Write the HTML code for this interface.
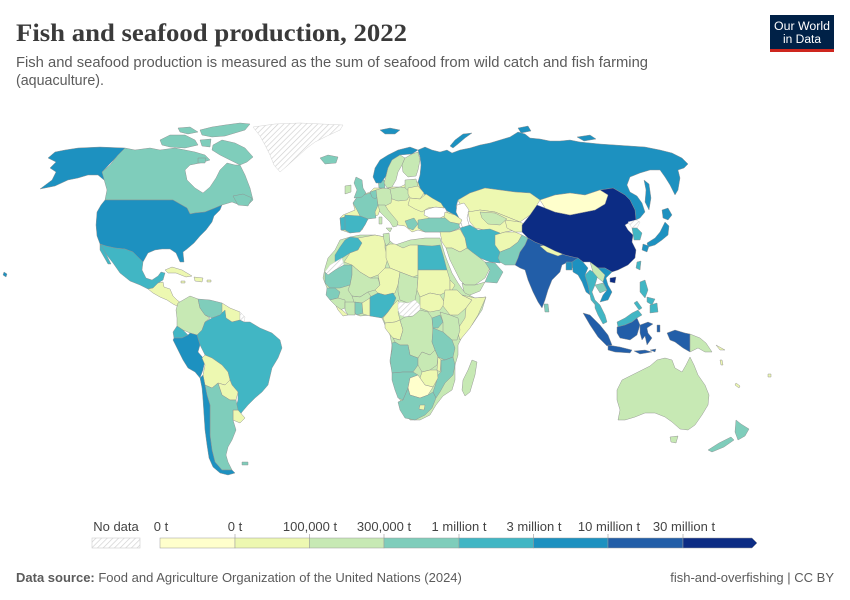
<!DOCTYPE html>
<html><head><meta charset="utf-8">
<style>
html,body{margin:0;padding:0;background:#fff;}
svg{display:block;}
.c0{fill:#ffffcc}.c1{fill:#edf8b1}.c2{fill:#c7e9b4}.c3{fill:#7fcdbb}
.c4{fill:#41b6c4}.c5{fill:#1d91c0}.c6{fill:#225ea8}.c7{fill:#0c2c84}
.nd{fill:url(#h);stroke:#cfcfcf !important}
.wt{fill:#fff}
.map polygon{stroke:#8f8f8f;stroke-width:0.45;stroke-linejoin:round}
text{font-family:"Liberation Sans",sans-serif}
</style></head>
<body>
<svg width="850" height="600" viewBox="0 0 850 600" xmlns="http://www.w3.org/2000/svg">
<defs>
<pattern id="h" width="4" height="4" patternUnits="userSpaceOnUse" patternTransform="rotate(45)">
<rect width="4" height="4" fill="#fff"/><line x1="0" y1="0" x2="0" y2="4" stroke="#cfcfcf" stroke-width="1.3"/>
</pattern>
</defs>
<rect width="850" height="600" fill="#fff"/>

<!-- Header -->
<text x="16" y="41" font-family="Liberation Serif,serif" style="font-family:'Liberation Serif',serif" font-size="25" font-weight="bold" fill="#3a3a3a" textLength="391" lengthAdjust="spacingAndGlyphs">Fish and seafood production, 2022</text>
<text x="16" y="67" font-size="14.5" fill="#5b5b5b" textLength="632" lengthAdjust="spacingAndGlyphs">Fish and seafood production is measured as the sum of seafood from wild catch and fish farming</text>
<text x="16" y="85" font-size="14.5" fill="#5b5b5b" textLength="88" lengthAdjust="spacingAndGlyphs">(aquaculture).</text>

<!-- Logo -->
<rect x="770" y="15" width="64" height="37" fill="#002147"/>
<rect x="770" y="49" width="64" height="3" fill="#ce261e"/>
<text x="802" y="30" font-size="11.5" fill="#fff" text-anchor="middle" textLength="56" lengthAdjust="spacingAndGlyphs">Our World</text>
<text x="802" y="43" font-size="11.5" fill="#fff" text-anchor="middle" textLength="38" lengthAdjust="spacingAndGlyphs">in Data</text>

<g class="map">
<!-- North America -->
<polygon class="c5" points="78,148 100,147 125,148 102,172 108,178 112,185 104,180 98,175 88,175 78,178 68,180 55,186 40,189 52,180 56,172 50,168 56,162 48,158 55,152 65,150"/>
<polygon class="c3" points="125,148 135,150 150,148 160,150 175,148 185,150 195,152 205,155 210,160 200,163 190,165 185,170 187,180 195,188 203,193 210,187 216,178 220,170 227,163 235,165 240,165 245,175 250,188 253,200 248,205 240,205 232,202 222,205 215,208 205,212 195,213 190,214 187,208 180,204 173,200 105,200 107,190 102,172 110,165 118,155"/>
<polygon class="c3" points="233,196 243,194 252,198 248,206 238,205"/>
<polygon class="c3" points="160,140 170,135 185,135 195,140 198,145 185,148 170,147 162,145"/>
<polygon class="c3" points="200,130 212,127 225,125 240,123 250,124 245,130 235,133 225,136 212,137 202,135"/>
<polygon class="c3" points="213,145 222,140 235,143 245,148 253,157 247,162 240,165 230,160 220,155 212,150"/>
<polygon class="c3" points="178,128 190,127 198,132 188,134 180,132"/>
<polygon class="c3" points="200,140 211,139 210,147 202,146"/>
<polygon class="c3" points="198,158 206,158 205,163 198,163"/>
<polygon class="nd" points="253,127 275,124 300,123 343,125 340,130 327,136 315,142 307,148 297,157 287,166 280,172 274,165 270,155 265,145 260,136"/>
<polygon class="c3" points="320,158 328,155 338,157 336,163 325,164"/>
<polygon class="c5" points="105,200 173,200 180,204 187,208 190,214 195,213 205,212 215,208 222,205 220,210 214,216 212,222 206,230 200,236 194,243 187,249 183,252 184,262 180,262 176,253 170,249 162,249 155,250 148,253 143,262 139,258 133,252 125,249 115,248 106,246 100,244 97,236 96,225 97,212 101,205"/>
<polygon class="c4" points="100,244 106,246 115,248 125,249 133,252 139,258 143,262 142,270 146,278 152,280 158,276 161,272 165,273 163,280 158,283 153,288 148,289 140,285 130,281 120,273 113,263 106,254"/>
<polygon class="c4" points="100,244 104,250 108,258 111,264 108,264 104,257 100,250"/>
<polygon class="c1" points="148,289 153,288 158,283 163,282 164,287 170,289 173,296 177,300 181,303 179,307 173,304 167,300 160,297 153,293"/>
<polygon class="c1" points="165,270 172,267 182,270 192,276 186,277 176,273 168,273"/>
<polygon class="c1" points="194,277 203,278 202,282 195,281"/>
<polygon class="c1" points="181,281 185,281 185,283 181,283"/>
<polygon class="c1" points="207,280 211,280 211,282 207,282"/>
<polygon class="c5" points="4,272 7,274 6,277 3,275"/>

<!-- South America -->
<polygon class="c2" points="178,303 190,296 198,299 200,308 205,315 210,318 205,322 202,330 197,335 190,333 183,330 177,326 177,318 176,310"/>
<polygon class="c3" points="198,299 210,300 222,303 225,310 220,315 212,318 205,315 200,308"/>
<polygon class="c1" points="222,303 230,308 240,312 240,320 232,322 226,318 222,312"/>
<polygon class="nd" points="240,312 245,317 244,322 240,320"/>
<polygon class="c4" points="202,330 205,322 212,318 220,315 225,310 226,318 232,322 240,320 244,322 250,322 260,328 272,333 280,340 282,348 278,358 272,368 268,385 262,392 255,398 248,405 242,412 238,418 235,410 238,400 238,392 232,385 230,380 228,372 222,365 212,358 205,355 200,345 197,335"/>
<polygon class="c4" points="177,326 183,330 188,335 182,338 174,338 173,332"/>
<polygon class="c5" points="174,338 182,338 188,335 190,333 197,335 200,345 198,352 205,360 203,370 200,378 195,372 188,368 183,360 178,350 173,340"/>
<polygon class="c1" points="205,355 212,358 222,365 228,372 230,380 225,385 218,383 212,388 205,385 203,375 205,365 202,358"/>
<polygon class="c1" points="218,383 225,385 230,380 232,385 238,392 236,400 230,400 222,395"/>
<polygon class="c1" points="233,410 238,410 245,418 240,423 233,420"/>
<polygon class="c3" points="205,385 212,388 218,383 222,395 230,400 236,400 238,410 233,410 233,420 236,430 232,440 228,447 226,455 228,462 232,470 222,470 215,462 212,450 210,435 210,420 210,405 207,395"/>
<polygon class="c5" points="200,378 203,375 205,385 207,395 210,405 210,420 210,435 212,450 215,462 222,470 232,470 235,473 228,475 220,473 213,467 209,458 207,445 205,430 204,415 203,400 202,388"/>
<polygon class="c3" points="242,462 248,462 248,465 242,465"/>

<!-- Russia & northern Eurasia -->
<polygon class="c5" points="418,150 425,147 432,150 440,152 447,150 452,153 460,150 470,148 480,145 490,143 500,140 510,137 518,132 525,134 530,138 540,139 550,141 560,141 570,140 580,142 590,143 600,144 615,145 630,146 645,147 660,150 672,153 682,158 688,164 684,168 678,170 680,178 678,190 675,195 670,185 665,177 660,170 650,170 640,173 630,177 627,185 630,192 637,196 642,203 645,212 640,218 636,220 635,210 630,200 625,195 613,188 600,190 585,195 570,193 555,195 540,200 530,193 515,192 500,190 485,188 470,193 458,200 456,207 460,215 462,220 455,218 448,212 442,205 432,200 425,195 420,188 418,182 420,175 421,165 420,157"/>
<polygon class="c5" points="450,146 455,140 463,134 472,133 465,138 458,144 453,148"/>
<polygon class="c5" points="518,128 528,126 531,131 521,133"/>
<polygon class="c5" points="577,137 590,135 596,139 584,141"/>
<polygon class="c5" points="644,180 649,184 651,198 649,210 645,202 646,190"/>
<polygon class="c5" points="380,130 390,128 400,130 395,134 385,134"/>

<!-- Europe -->
<polygon class="c1" points="343,215 355,210 353,203 357,197 370,192 374,188 380,188 386,189 392,187 400,187 408,183 418,182 420,188 425,195 432,200 440,205 445,210 455,215 460,222 458,228 450,232 438,232 425,232 418,230 412,232 405,226 398,225 395,220 388,212 386,208 380,210 378,215 368,219 362,230 350,233 341,230 340,218"/>
<polygon class="wt" points="425,210 435,207 445,208 448,214 440,218 430,218 424,215"/>
<polygon class="c3" points="357,197 370,193 377,198 378,205 375,212 376,218 368,219 360,216 357,210 353,203"/>
<polygon class="c4" points="345,215 360,216 368,219 365,225 360,232 350,233 345,230 343,222"/>
<polygon class="c4" points="340,218 345,217 345,230 341,230"/>
<polygon class="c3" points="356,177 362,180 363,188 366,193 362,197 354,198 357,190 354,183"/>
<polygon class="c2" points="345,186 351,185 351,192 345,194"/>
<polygon class="c3" points="370,192 376,190 378,196 375,199 372,197"/>
<polygon class="c2" points="376,190 383,188 390,189 392,196 391,203 385,206 378,205 377,198"/>
<polygon class="c3" points="378,180 384,180 385,188 379,188"/>
<polygon class="c2" points="390,189 400,187 408,188 410,195 407,200 398,201 392,199"/>
<polygon class="c2" points="405,180 416,179 418,186 410,192 405,188"/>
<polygon class="c1" points="408,188 418,186 424,193 420,199 410,198 408,194"/>
<polygon class="c1" points="410,198 420,199 426,194 432,198 441,203 444,208 436,207 428,208 422,212 415,209 408,205"/>
<polygon class="c2" points="378,205 385,205 388,210 393,216 398,222 397,226 393,227 390,222 384,216 380,212"/>
<polygon class="c2" points="386,228 392,228 390,232"/>
<polygon class="c2" points="379,217 382,217 382,224 379,224"/>
<polygon class="c3" points="405,221 414,218 418,224 413,230 408,228"/>
<polygon class="c3" points="418,220 430,218 445,218 458,222 460,228 450,232 438,232 425,232 418,228"/>
<polygon class="c5" points="373,177 375,168 380,160 388,155 398,150 410,147 418,150 412,154 400,155 392,160 388,168 386,176 381,183 376,183"/>
<polygon class="c2" points="386,176 388,168 392,160 400,155 405,158 402,165 398,172 396,180 392,187 387,188 384,183"/>
<polygon class="c2" points="405,158 412,154 418,152 420,160 418,170 416,176 408,177 403,172 402,165"/>

<!-- Central / South Asia -->
<polygon class="c1" points="458,200 470,193 485,188 500,190 515,192 530,193 540,200 537,205 530,215 520,222 510,218 495,212 480,210 470,212 462,208"/>
<polygon class="wt" points="457,205 464,203 469,210 467,218 470,228 463,229 460,220 456,212"/>
<polygon class="c1" points="445,212 455,215 462,220 460,224 450,222 444,217"/>
<polygon class="c1" points="468,212 480,210 495,212 510,218 520,222 515,230 505,232 495,235 485,230 475,228 470,222"/>
<polygon class="c2" points="480,212 495,213 507,219 500,225 488,224 482,218"/>
<polygon class="c1" points="505,220 520,222 528,226 522,232 515,232 507,228"/>
<polygon class="c4" points="460,228 470,225 478,230 490,229 500,233 503,245 505,258 500,263 490,262 480,258 472,252 467,248 465,238"/>
<polygon class="c1" points="440,232 450,232 460,229 465,238 467,248 460,252 452,248 446,248 442,242"/>
<polygon class="c1" points="495,235 505,232 515,232 522,235 518,242 510,248 500,252 495,245"/>
<polygon class="c3" points="500,252 510,248 518,242 522,235 528,238 525,245 520,252 518,258 515,265 505,265 500,262 498,258"/>
<polygon class="c2" points="446,248 452,248 460,252 467,248 472,252 480,258 485,262 490,268 485,278 475,285 465,285 460,280 455,270 450,260"/>
<polygon class="c2" points="462,283 465,285 475,285 485,282 480,291 470,295 465,296"/>
<polygon class="c3" points="485,262 495,263 503,272 497,283 485,282 490,270"/>
<polygon class="c6" points="520,252 525,245 528,238 535,242 545,246 555,251 565,255 573,257 580,258 578,265 572,268 568,262 562,265 560,272 552,280 548,290 545,300 542,308 538,302 533,292 528,280 525,270 520,268 515,265 518,258"/>
<polygon class="c1" points="540,246 546,245 555,250 563,254 558,256 547,252"/>
<polygon class="c5" points="566,262 572,262 572,270 566,270"/>
<polygon class="c3" points="544,304 548,304 549,312 545,312"/>

<!-- East Asia -->
<polygon class="c7" points="522,225 530,215 537,205 545,208 555,212 570,215 580,213 595,210 605,204 608,195 600,190 613,188 625,195 630,200 635,210 636,220 630,222 625,225 628,230 633,235 632,242 636,250 635,258 628,265 618,270 612,272 605,268 598,268 590,262 583,262 578,258 573,257 565,255 555,251 545,246 535,242 528,238 522,232"/>
<polygon class="c0" points="540,200 555,195 570,193 585,195 600,190 608,195 605,204 595,210 580,213 570,215 555,212 545,208"/>
<polygon class="c7" points="610,278 616,277 615,283 610,282"/>
<polygon class="c4" points="637,262 641,261 640,270 636,268"/>
<polygon class="nd" points="628,222 636,220 640,222 637,228 632,228"/>
<polygon class="c4" points="632,228 637,228 642,233 640,240 634,240 633,234"/>
<polygon class="c5" points="662,210 668,208 672,215 668,220 663,218"/>
<polygon class="c5" points="665,222 669,226 668,235 662,240 655,245 648,247 647,243 655,238 660,232 663,226"/>
<polygon class="c5" points="643,244 649,246 647,252 642,250"/>

<!-- Southeast Asia -->
<polygon class="c5" points="572,262 578,258 583,262 588,268 585,275 588,285 590,295 586,292 582,282 578,275 573,272"/>
<polygon class="c4" points="585,275 590,270 598,275 595,285 592,292 595,300 600,305 597,307 591,300 588,285"/>
<polygon class="c2" points="590,262 598,268 605,275 603,282 598,278 593,272"/>
<polygon class="c3" points="595,285 603,283 607,290 600,293"/>
<polygon class="c5" points="598,268 605,268 612,272 606,278 608,285 612,292 608,300 600,302 603,295 607,290 603,282 605,275"/>
<polygon class="c4" points="595,300 600,305 605,315 607,322 603,324 598,315 595,308"/>
<polygon class="c6" points="583,313 590,315 600,325 608,335 612,345 607,346 598,337 590,325"/>
<polygon class="c6" points="608,345 620,347 632,350 630,353 615,352 608,350"/>
<polygon class="c6" points="634,351 645,350 652,352 640,354"/>
<polygon class="c6" points="650,350 656,349 655,352"/>
<polygon class="c4" points="617,322 625,318 632,313 638,310 642,315 637,318 632,322 625,325 618,327"/>
<polygon class="c6" points="617,327 625,325 632,322 637,318 640,325 637,335 630,340 620,338 617,333"/>
<polygon class="c6" points="640,325 648,322 653,324 647,328 648,333 652,338 647,345 645,336 642,340 640,333"/>
<polygon class="c6" points="657,325 660,325 660,332 657,332"/>
<polygon class="c6" points="667,333 675,330 685,333 690,334 690,352 683,348 675,342 670,340"/>
<polygon class="c2" points="690,334 700,338 706,343 712,352 705,352 698,348 690,352"/>
<polygon class="c4" points="640,282 645,280 648,290 645,298 640,292"/>
<polygon class="c4" points="650,305 657,303 658,312 650,313"/>
<polygon class="c4" points="647,297 655,299 652,305 647,302"/>
<polygon class="c4" points="634,303 637,301 642,308 639,310"/>

<!-- Oceania -->
<polygon class="c2" points="617,390 622,380 632,375 642,370 650,366 657,360 665,358 672,360 675,368 682,372 686,365 690,357 694,365 698,375 705,385 709,395 708,405 702,415 695,425 688,430 680,429 672,422 665,417 655,413 645,413 635,417 625,420 618,420 620,410 617,400"/>
<polygon class="c2" points="670,437 678,436 676,443 671,442"/>
<polygon class="c3" points="736,420 741,424 749,429 745,436 738,440 735,432"/>
<polygon class="c3" points="734,440 724,447 712,452 708,450 719,443 731,437"/>
<polygon class="c1" points="736,383 740,386 739,388 735,385"/>
<polygon class="c1" points="716,345 725,350 720,350"/>
<polygon class="c1" points="720,360 722,360 723,365 721,365"/>
<polygon class="c1" points="768,374 771,374 771,377 768,377"/>

<!-- Africa -->
<polygon class="c2" points="350,237 340,240 335,250 328,258 325,268 323,278 327,288 332,295 340,303 350,312 360,316 372,315 382,318 385,325 390,335 392,345 390,362 393,375 396,388 400,400 405,412 410,420 420,420 430,415 436,405 443,396 452,390 455,380 455,365 458,355 458,345 463,335 472,325 482,310 486,297 475,298 465,293 458,283 452,273 448,263 445,255 442,245 440,238 425,238 410,240 395,245 385,237 375,235 360,235"/>
<polygon class="c4" points="350,237 358,238 362,243 358,250 350,253 342,258 335,262 335,255 340,247 345,240"/>
<polygon class="nd" points="335,262 342,258 344,265 335,270 328,275 325,272 330,265"/>
<polygon class="c1" points="358,238 375,235 385,237 385,248 388,258 385,268 378,275 370,278 360,272 352,265 344,262 350,253 358,250 362,243"/>
<polygon class="c2" points="383,234 389,233 390,242 386,246 384,240"/>
<polygon class="c1" points="386,246 390,244 395,244 403,248 410,245 418,245 418,275 413,277 400,272 390,268 386,258"/>
<polygon class="c4" points="418,245 432,246 440,245 443,255 447,270 433,270 418,270"/>
<polygon class="c3" points="325,272 328,275 335,270 344,265 352,265 352,275 350,285 340,288 330,288 325,283"/>
<polygon class="c2" points="352,265 360,272 370,278 378,278 380,285 375,290 368,292 360,297 352,296 348,290 350,285 352,275"/>
<polygon class="c1" points="378,275 385,268 390,268 400,272 398,285 395,293 385,295 378,293 375,290 380,285"/>
<polygon class="c2" points="400,272 413,277 418,278 417,290 415,300 408,303 400,300 398,292 398,285"/>
<polygon class="c1" points="418,270 433,270 447,270 450,280 450,290 440,295 430,293 420,297 417,290 418,278"/>
<polygon class="c1" points="420,297 430,293 440,295 445,303 440,310 430,312 420,308"/>
<polygon class="c1" points="450,280 455,285 452,290 450,290"/>
<polygon class="c1" points="445,290 452,290 457,290 462,295 472,300 466,308 458,315 450,315 443,306"/>
<polygon class="c1" points="462,295 475,298 486,297 478,315 470,328 460,340 457,330 465,318 466,308 472,300"/>
<polygon class="c3" points="327,288 335,288 340,292 338,298 330,300 326,295"/>
<polygon class="c2" points="330,300 338,298 345,300 345,308 340,310 335,305"/>
<polygon class="c1" points="336,306 342,310 348,315 343,316 338,310"/>
<polygon class="c2" points="345,302 355,302 355,315 348,315 345,310"/>
<polygon class="c2" points="352,296 360,297 368,292 372,298 362,303 354,302"/>
<polygon class="c3" points="355,302 362,303 363,313 357,315 355,313"/>
<polygon class="c1" points="362,303 370,298 370,316 363,314"/>
<polygon class="c4" points="370,297 378,293 385,295 393,293 396,298 393,305 388,312 382,318 376,317 370,316"/>
<polygon class="c1" points="388,312 393,305 398,300 400,305 398,312 400,320 395,322 385,323 383,318"/>
<polygon class="nd" points="398,302 408,303 415,300 420,305 420,310 413,316 405,317 400,315 398,310"/>
<polygon class="c1" points="385,323 395,322 400,320 403,330 400,340 393,338 388,332 385,328"/>
<polygon class="c2" points="400,320 405,317 413,316 420,310 428,312 432,318 433,330 432,342 435,350 430,355 422,352 418,358 410,355 408,345 400,345 395,342 393,338 400,340 403,330"/>
<polygon class="c3" points="432,318 440,315 443,322 438,328 433,328"/>
<polygon class="c2" points="440,312 450,315 458,318 460,330 457,340 452,340 443,332 443,322"/>
<polygon class="c3" points="433,328 443,332 452,340 455,348 453,357 445,360 438,357 435,350 432,342"/>
<polygon class="c3" points="392,343 395,342 400,345 408,345 410,355 418,358 418,365 413,372 403,372 392,373 390,360 392,350"/>
<polygon class="c2" points="418,358 422,352 430,355 435,350 438,357 437,365 430,370 422,372 418,365"/>
<polygon class="c1" points="438,357 441,360 440,372 437,370"/>
<polygon class="c3" points="441,360 445,360 453,357 455,365 453,375 445,383 440,392 436,398 433,392 436,383 438,375 441,372"/>
<polygon class="c1" points="422,372 430,370 437,370 438,378 433,387 425,385 420,378"/>
<polygon class="c3" points="392,373 403,372 413,372 418,375 410,378 408,388 403,400 398,398 395,390 392,380"/>
<polygon class="c0" points="410,378 418,375 420,378 425,385 433,387 428,395 420,398 410,395 408,388"/>
<polygon class="c3" points="403,400 408,388 410,395 420,398 428,395 433,392 436,398 432,408 425,415 415,420 405,418 400,410 398,402"/>
<polygon class="c1" points="420,405 425,405 424,410 419,409"/>
<polygon class="c2" points="472,360 477,362 475,375 470,392 465,396 462,390 463,380 468,370"/>
</g>

<!-- Legend -->
<g font-size="13" fill="#444">
<text x="116" y="531" text-anchor="middle">No data</text>
<text x="161" y="531" text-anchor="middle">0 t</text>
<text x="235" y="531" text-anchor="middle">0 t</text>
<text x="310" y="531" text-anchor="middle">100,000 t</text>
<text x="384" y="531" text-anchor="middle">300,000 t</text>
<text x="459" y="531" text-anchor="middle">1 million t</text>
<text x="534" y="531" text-anchor="middle">3 million t</text>
<text x="609" y="531" text-anchor="middle">10 million t</text>
<text x="684" y="531" text-anchor="middle">30 million t</text>
</g>
<g stroke="#999" stroke-width="0.6">
<line x1="235" y1="534" x2="235" y2="541"/><line x1="309.5" y1="534" x2="309.5" y2="541"/>
<line x1="384" y1="534" x2="384" y2="541"/><line x1="459" y1="534" x2="459" y2="541"/>
<line x1="533.5" y1="534" x2="533.5" y2="541"/><line x1="608" y1="534" x2="608" y2="541"/>
<line x1="683" y1="534" x2="683" y2="541"/>
</g>
<rect x="92" y="538" width="48" height="10" fill="url(#h)" stroke="#ccc" stroke-width="0.6"/>
<g stroke="#999" stroke-width="0.5">
<rect x="160" y="538" width="75" height="10" class="c0"/>
<rect x="235" y="538" width="74.5" height="10" class="c1"/>
<rect x="309.5" y="538" width="74.5" height="10" class="c2"/>
<rect x="384" y="538" width="75" height="10" class="c3"/>
<rect x="459" y="538" width="74.5" height="10" class="c4"/>
<rect x="533.5" y="538" width="74.5" height="10" class="c5"/>
<rect x="608" y="538" width="75" height="10" class="c6"/>
<polygon points="683,538 752,538 757,543 752,548 683,548" class="c7"/>
</g>

<!-- Footer -->
<text x="16" y="582" font-size="13" fill="#5b5b5b"><tspan font-weight="bold">Data source:</tspan> Food and Agriculture Organization of the United Nations (2024)</text>
<text x="834" y="582" font-size="13" fill="#5b5b5b" text-anchor="end">fish-and-overfishing | CC BY</text>
</svg>
</body></html>
